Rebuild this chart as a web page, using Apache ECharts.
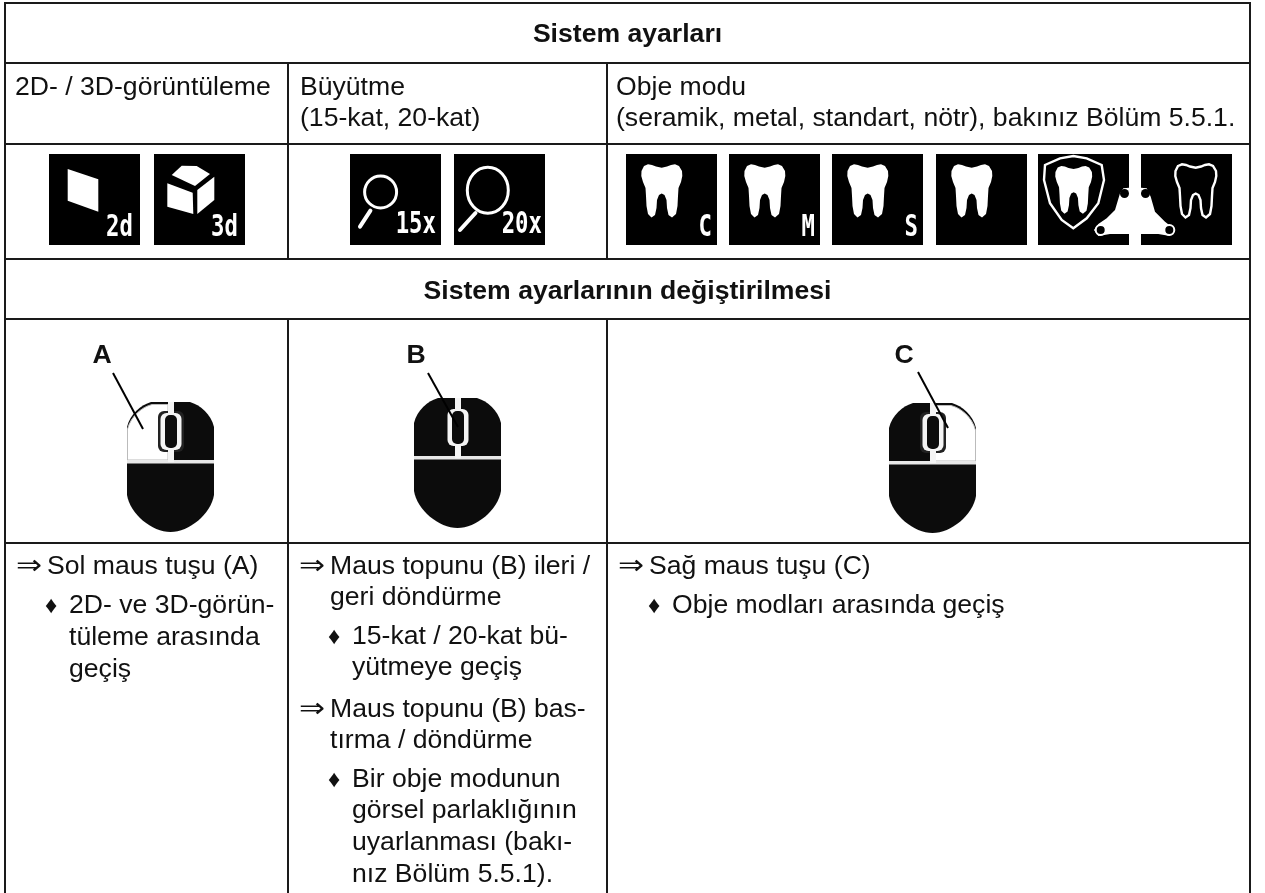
<!DOCTYPE html>
<html>
<head>
<meta charset="utf-8">
<style>
  html, body { margin: 0; background: #fff; }
  #chart { width: 1265px; height: 893px; }
</style>
<script src="https://cdn.jsdelivr.net/npm/echarts@6/dist/echarts.min.js"></script>
</head>
<body>
<div id="chart"></div>
<script>
// table text
const headings = ['Sistem ayarları', 'Sistem ayarlarının değiştirilmesi']
const captions = ['2D- / 3D-görüntüleme', 'Büyütme', '(15-kat, 20-kat)', 'Obje modu', '(seramik, metal, standart, nötr), bakınız Bölüm 5.5.1.']
const mouseLetters = ['A', 'B', 'C']
const stepLines = ['Sol maus tuşu (A)', 'Maus topunu (B) ileri /', 'geri döndürme', 'Maus topunu (B) bas-', 'tırma / döndürme', 'Sağ maus tuşu (C)']
const actionLines = ['2D- ve 3D-görün-', 'tüleme arasında', 'geçiş', '15-kat / 20-kat bü-', 'yütmeye geçiş', 'Bir obje modunun', 'görsel parlaklığının', 'uyarlanması (bakı-', 'nız Bölüm 5.5.1).', 'Obje modları arasında geçiş']
const iconNames = ['2d', '3d', '15x', '20x', 'C', 'M', 'S', 'plain', 'shield', 'outline']

// where things sit on the page
const rowEdges = [3, 63, 144, 259, 319, 543]
const colEdges = [5, 288, 607, 1250]
const pageBottom = 893
const headingY = [42, 299]
const captionX = [15, 300, 300, 616, 616]
const captionY = [95, 95, 126, 95, 126]
const stepX = [47, 330, 330, 330, 330, 649]
const stepY = [574, 574, 605, 717, 748, 574]
const stepArrow = [true, true, false, true, false, true]
const actionX = [69, 69, 69, 352, 352, 352, 352, 352, 352, 672]
const actionY = [613, 645, 677, 644, 675, 787, 818, 850, 882, 613]
const actionBullet = [true, false, false, true, false, true, false, false, false, true]
const iconX = [49, 154, 350, 454, 626, 729, 832, 936, 1038, 1141]
const iconTop = 154
const mouseX = [127, 414, 889]
const mouseY = [402, 398, 403]
const letterX = [102, 416, 904]
const letterY = [363, 363, 363]
const leaderFrom = [[113, 373], [428, 373], [918, 372]]
const leaderTo = [[143, 429], [458, 427], [948, 428]]

const BODY = '26.6px "Liberation Sans", Arial, sans-serif'
const BOLD = 'bold 26.6px "Liberation Sans", Arial, sans-serif'
const ICON_FONT = 'bold 31px "DejaVu Sans Mono", monospace'
const INK = '#111'

const toothPts = [[18,12],[22,10.3],[26,11],[30,12.5],[35.7,13.7],[41,12.5],[45,11],[49,10.3],[53,12],[56,17],[56.3,22],[55,28],[52.5,34],[52,42],[51.5,52],[50,60],[46,63.5],[42.5,61],[41,54],[40.5,46],[38.5,41],[35.7,39.5],[33,41],[31,46],[30.5,54],[29,61],[25.5,63.5],[22,60],[20.5,52],[20,42],[19.5,34],[17,28],[15.3,22],[15.5,17]]

function poly(points, fill, stroke, width) {
  return {
    type: 'polygon',
    shape: {points},
    style: {fill: fill || 'none', stroke: stroke || 'none', lineWidth: width || 0}
  }
}
function stroke(p1, p2, width) {
  return {
    type: 'line',
    shape: {x1: p1[0], y1: p1[1], x2: p2[0], y2: p2[1]},
    style: {stroke: '#fff', lineWidth: width, lineCap: 'round'}
  }
}
function ring(cx, cy, r, fill, width) {
  return {
    type: 'circle',
    shape: {cx, cy, r},
    style: {fill, stroke: '#fff', lineWidth: width}
  }
}
function tag(text, right, baseline) {
  return {
    type: 'text',
    x: right,
    y: baseline,
    scaleX: 0.72,
    style: {text, x: 0, y: 0, fill: '#fff', font: ICON_FONT, textAlign: 'right', textVerticalAlign: 'bottom'}
  }
}
function tooth(dx, dy, scale, outlined) {
  const pts = toothPts.map(p => [dx + p[0] * scale, dy + p[1] * scale])
  return outlined ? poly(pts, '#000', '#fff', 2.4) : poly(pts, '#fff')
}

function iconParts(name) {
  const parts = [{type: 'rect', shape: {x: 0, y: 0, width: 91, height: 91}, style: {fill: '#000'}}]
  if (name === '2d') {
    parts.push(poly([[18.7,15],[49.3,25.3],[49.3,57.7],[18.7,46.7]], '#fff'), tag('2d', 84, 89))
  } else if (name === '3d') {
    parts.push(
      poly([[17.7,21],[27.7,11.7],[42.7,12],[56,20],[41,32]], '#fff'),
      poly([[13.3,29.3],[38.7,38.7],[39.3,60],[13.3,52.7]], '#fff'),
      poly([[43.3,36],[60.3,22.7],[60.3,46],[43.3,60]], '#fff'),
      tag('3d', 84, 89))
  } else if (name === '15x') {
    parts.push(ring(30.6, 38, 16, 'none', 3), stroke([20.4,56.7], [10,72.7], 4), tag('15x', 86, 86))
  } else if (name === '20x') {
    parts.push({
      type: 'ellipse',
      shape: {cx: 33.8, cy: 36.3, rx: 20.5, ry: 23},
      style: {fill: 'none', stroke: '#fff', lineWidth: 3}
    }, stroke([21.5,59], [6,76], 4), tag('20x', 88, 86))
  } else if (name === 'C' || name === 'M' || name === 'S') {
    parts.push(tooth(0, 0, 1, false), tag(name, 86, 89))
  } else if (name === 'plain') {
    parts.push(tooth(0, 0, 1, false))
  } else if (name === 'shield') {
    parts.push(
      poly([[35.3,2],[48.7,4.3],[63.7,11],[66,26],[60.3,49.3],[48.7,64.3],[35.3,74.3],[23.7,66],[12,49.3],[6,26],[7,11],[22,4.3]], 'none', '#fff', 2.4),
      tooth(3.5, 2.7, 0.9, false),
      poly([[91,33.7],[85.3,34.3],[82,39.3],[77,56],[68.7,64.3],[60.3,70],[56,76],[60.3,82],[72,80],[91,80]], '#fff'),
      ring(86.5, 39.5, 4.5, '#000', 0),
      ring(62.7, 76, 5, '#000', 2))
  } else if (name === 'outline') {
    parts.push(
      tooth(19, 0, 1, true),
      poly([[0,33.7],[5.7,34.3],[9.7,42.7],[14,57.7],[24,67.7],[32,74],[29,82],[17.3,80],[0,80]], '#fff'),
      ring(4.5, 39.5, 4.5, '#000', 0),
      ring(28.3, 76, 5, '#000', 2))
  }
  return parts
}

function mouseParts(which) {
  const parts = [{
    type: 'path',
    shape: {pathData: 'M0,25 C3,12 14,3 24,0 L63,0 C73,3 84,12 87,25 L87,93 C84,112 62,130 43.5,130 C25,130 3,112 0,93 Z'},
    style: {fill: '#0c0c0c'}
  }]
  if (which === 0) {
    parts.push({
      type: 'path',
      shape: {pathData: 'M0.5,58 L0.5,27 C4,14 15,5 25,2.5 L41,2.5 L41,58 Z'},
      style: {fill: '#fff', stroke: '#bbb', lineWidth: 1}
    })
  }
  if (which === 2) {
    parts.push({
      type: 'path',
      shape: {pathData: 'M46,58 L46,2.5 L62,2.5 C72,5 83,14 86.5,27 L86.5,58 Z'},
      style: {fill: '#fff', stroke: '#bbb', lineWidth: 1}
    })
  }
  if (which !== 1) {
    parts.push({type: 'rect', shape: {x: 31, y: 9, width: 26, height: 41, r: 6}, style: {fill: '#222'}})
  }
  parts.push(
    {type: 'rect', shape: {x: 0, y: 58, width: 87, height: 3.5}, style: {fill: '#e8e8e8'}},
    {type: 'rect', shape: {x: 41, y: 0, width: 6, height: 60}, style: {fill: '#f4f4f4'}},
    {type: 'rect', shape: {x: 33.5, y: 11, width: 21, height: 37, r: 6}, style: {fill: '#f4f4f4'}},
    {type: 'rect', shape: {x: 38, y: 13, width: 12, height: 33, r: 5}, style: {fill: '#0c0c0c'}})
  return parts
}

// text marks, all anchored on their baseline
const textMarks = []
headings.forEach((text, i) => {
  textMarks.push({text, x: (colEdges[0] + colEdges[3]) / 2, y: headingY[i], font: BOLD, align: 'center'})
})
mouseLetters.forEach((text, i) => {
  textMarks.push({text, x: letterX[i], y: letterY[i], font: BOLD, align: 'center'})
})
captions.forEach((text, i) => {
  textMarks.push({text, x: captionX[i], y: captionY[i], font: BODY, align: 'left'})
})
stepLines.forEach((text, i) => {
  textMarks.push({text, x: stepX[i], y: stepY[i], font: BODY, align: 'left'})
  if (stepArrow[i]) {
    textMarks.push({text: '⇒', x: stepX[i] - 31, y: stepY[i], font: '27px "DejaVu Sans", sans-serif', align: 'left', scaleX: 1.15})
  }
})
actionLines.forEach((text, i) => {
  textMarks.push({text, x: actionX[i], y: actionY[i], font: BODY, align: 'left'})
  if (actionBullet[i]) {
    textMarks.push({text: '♦', x: actionX[i] - 24, y: actionY[i] - 1, font: '24px "Liberation Sans", sans-serif', align: 'left'})
  }
})

// rules: x1, y1, x2, y2
const rules = []
rowEdges.forEach(y => rules.push([colEdges[0], y, colEdges[3], y]))
rules.push([colEdges[0], rowEdges[0], colEdges[0], pageBottom])
rules.push([colEdges[3], rowEdges[0], colEdges[3], pageBottom])
colEdges.slice(1, 3).forEach(x => {
  rules.push([x, rowEdges[1], x, rowEdges[3]])
  rules.push([x, rowEdges[4], x, pageBottom])
})

const myChart = echarts.init(document.getElementById('chart'))
myChart.setOption({
  animation: false,
  backgroundColor: '#fff',
  grid: {left: 0, right: 0, top: 0, bottom: 0},
  xAxis: {type: 'value', min: 0, max: 1265, show: false},
  yAxis: {type: 'value', min: 0, max: pageBottom, inverse: true, show: false},
  series: [
    {
      type: 'custom',
      silent: true,
      clip: false,
      data: rules,
      encode: {x: [0, 2], y: [1, 3]},
      renderItem(params, api) {
        const a = api.coord([api.value(0), api.value(1)])
        const b = api.coord([api.value(2), api.value(3)])
        return {
          type: 'line',
          shape: {x1: a[0], y1: a[1], x2: b[0], y2: b[1]},
          style: {stroke: '#1a1a1a', lineWidth: 2, lineCap: 'square'}
        }
      }
    },
    {
      type: 'custom',
      silent: true,
      clip: false,
      data: iconX.map(x => [x, iconTop]),
      renderItem(params, api) {
        const p = api.coord([api.value(0), api.value(1)])
        return {type: 'group', x: p[0], y: p[1], children: iconParts(iconNames[params.dataIndex])}
      }
    },
    {
      type: 'custom',
      silent: true,
      clip: false,
      data: mouseX.map((x, i) => [x, mouseY[i]]),
      renderItem(params, api) {
        const p = api.coord([api.value(0), api.value(1)])
        return {type: 'group', x: p[0], y: p[1], children: mouseParts(params.dataIndex)}
      }
    },
    {
      type: 'custom',
      silent: true,
      clip: false,
      data: leaderFrom.map((p, i) => [p[0], p[1], leaderTo[i][0], leaderTo[i][1]]),
      renderItem(params, api) {
        const a = api.coord([api.value(0), api.value(1)])
        const b = api.coord([api.value(2), api.value(3)])
        return {
          type: 'line',
          shape: {x1: a[0], y1: a[1], x2: b[0], y2: b[1]},
          style: {stroke: '#000', lineWidth: 2}
        }
      }
    },
    {
      type: 'custom',
      silent: true,
      clip: false,
      data: textMarks.map(m => [m.x, m.y]),
      renderItem(params, api) {
        const m = textMarks[params.dataIndex]
        const p = api.coord([api.value(0), api.value(1)])
        return {
          type: 'text',
          x: p[0],
          y: p[1] + 6,
          scaleX: m.scaleX || 1,
          style: {text: m.text, x: 0, y: 0, font: m.font, fill: INK, textAlign: m.align, textVerticalAlign: 'bottom'}
        }
      }
    }
  ]
})
</script>
</body>
</html>
